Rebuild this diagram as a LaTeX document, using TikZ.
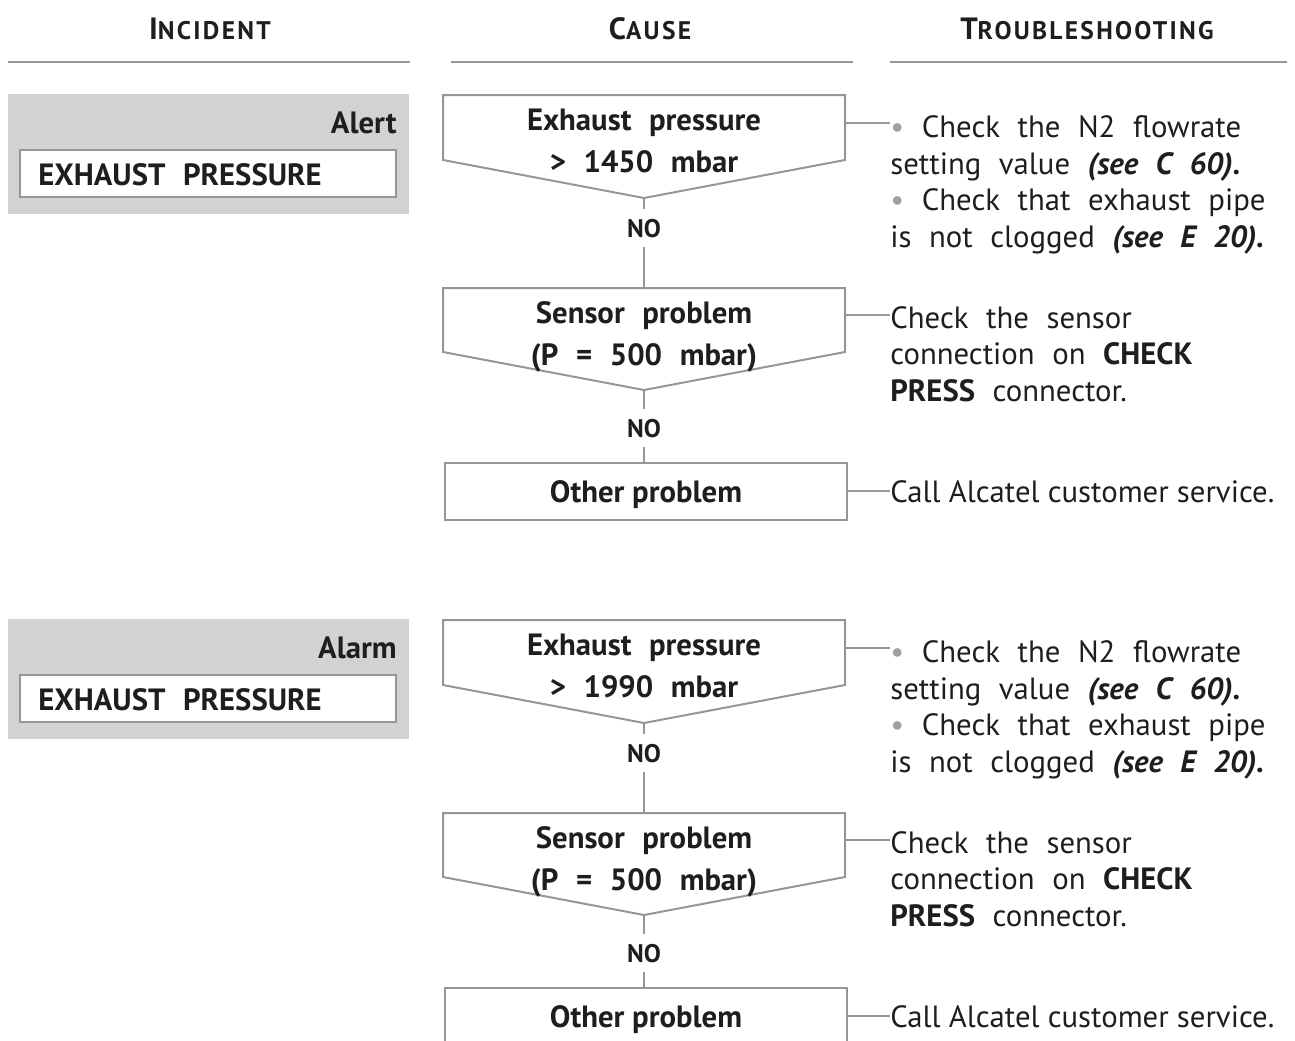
\documentclass[tikz,border=0pt]{standalone}
\usepackage{fontspec}
\setmainfont{PT Sans}
\usepackage{xcolor}
\usetikzlibrary{positioning,calc}
\definecolor{framegray}{RGB}{150,150,152}
\definecolor{panelgray}{RGB}{209,210,212}
\definecolor{bulletgray}{RGB}{160,160,160}
\definecolor{inkblack}{RGB}{30,30,30}
\newcommand{\widesp}{\spaceskip=10pt plus 2pt minus 1pt\relax}
\newcommand{\bodyfont}{\fontsize{17.5}{20.7}\selectfont}
\newcommand{\causefont}{\bfseries\fontsize{17.5}{23.8}\selectfont}
\newcommand{\nofont}{\bfseries\fontsize{14.5}{17}\selectfont}
\newcommand{\hsc}[2]{{\fontsize{17.5}{20}\selectfont #1}{\fontsize{14.5}{20}\selectfont\addfontfeature{LetterSpace=9}#2}}
\newcommand{\bul}{{\color{bulletgray}\textbullet}\ }
\newcommand{\seeref}[1]{\textbf{\textit{#1}}}

\begin{document}
\begin{tikzpicture}[x=0.02cm, y=-0.02cm,
    frame/.style={draw=framegray, line width=0.04cm},
    link/.style={draw=framegray, line width=0.04cm},
    hdr/.style={inner sep=0pt, anchor=base, font=\bfseries, text=inkblack},
    causetxt/.style={inner sep=0pt, anchor=base, align=center, font=\causefont\widesp, text=inkblack},
    notxt/.style={inner sep=0pt, inner ysep=0.18cm, anchor=base, font=\nofont, text=inkblack},
    fixtxt/.style={inner sep=0pt, anchor=base west, align=left, font=\bodyfont\widesp, text=inkblack},
]
\clip (0,0) rectangle (1295,1041);
% column headers
\node[hdr] (hinc) at (210,39) {\hsc{I}{NCIDENT}};
\node[hdr] (hcau) at (650,39) {\hsc{C}{AUSE}};
\node[hdr] (htro) at (1087,39) {\hsc{T}{ROUBLESHOOTING}};
\draw[frame] (8,62) -- (410,62);
\draw[frame] (451,62) -- (853,62);
\draw[frame] (890,62) -- (1287,62);

% base anchor of a multi-line node = baseline of its last line
\foreach \dy/\lvl/\lim in {0/Alert/1450, 525/Alarm/1990}{
\begin{scope}[shift={(0,\dy)}]
    % incident panel
    \fill[panelgray] (8,94) rectangle (409,214);
    \node[causetxt, anchor=base east] (lvl) at (397,133) {\lvl};
    \draw[frame, fill=white] (20,150) rectangle (396,197);
    \node[causetxt, anchor=base west] (inc) at (38,185) {EXHAUST PRESSURE};
    % cause 1
    \draw[frame, fill=white] (443,95) -- (845,95) -- (845,160) -- (644,198) -- (443,160) -- cycle;
    \coordinate (tip1) at (644,198);
    \coordinate (out1) at (845,123);
    \node[causetxt] (cau1) at (644,172) {Exhaust pressure\\> \lim\ mbar};
    \node[notxt] (no1) at (644,237) {NO};
    % cause 2
    \draw[frame, fill=white] (443,288) -- (845,288) -- (845,352) -- (644,390) -- (443,352) -- cycle;
    \coordinate (top2) at (644,288);
    \coordinate (tip2) at (644,390);
    \coordinate (out2) at (845,315);
    \node[causetxt] (cau2) at (644,365) {Sensor problem\\(P = 500 mbar)};
    \node[notxt] (no2) at (644,437) {NO};
    % cause 3
    \draw[frame, fill=white] (445,463) rectangle (847,520);
    \coordinate (top3) at (644,463);
    \coordinate (out3) at (847,491);
    \node[causetxt, font=\causefont] (cau3) at (646,502) {Other problem};
    % troubleshooting
    \node[fixtxt] (fix1) at (890,247) {\bul Check the N2 flowrate\\setting value \seeref{(see C 60).}\\\bul Check that exhaust pipe\\is not clogged \seeref{(see E 20).}};
    \node[fixtxt] (fix2) at (890,401) {Check the sensor\\connection on \textbf{CHECK}\\\textbf{PRESS} connector.};
    \node[fixtxt, font=\bodyfont] (fix3) at (890,502) {Call Alcatel customer service.};
    % connectors
    \draw[link] (tip1) -- (no1.north);
    \draw[link] (no1.south) -- (top2);
    \draw[link] (tip2) -- (no2.north);
    \draw[link] (no2.south) -- (top3);
    \draw[link] (out1) -- (out1 -| fix1.west);
    \draw[link] (out2) -- (out2 -| fix2.west);
    \draw[link] (out3) -- (out3 -| fix3.west);
\end{scope}
}
\end{tikzpicture}
\end{document}
